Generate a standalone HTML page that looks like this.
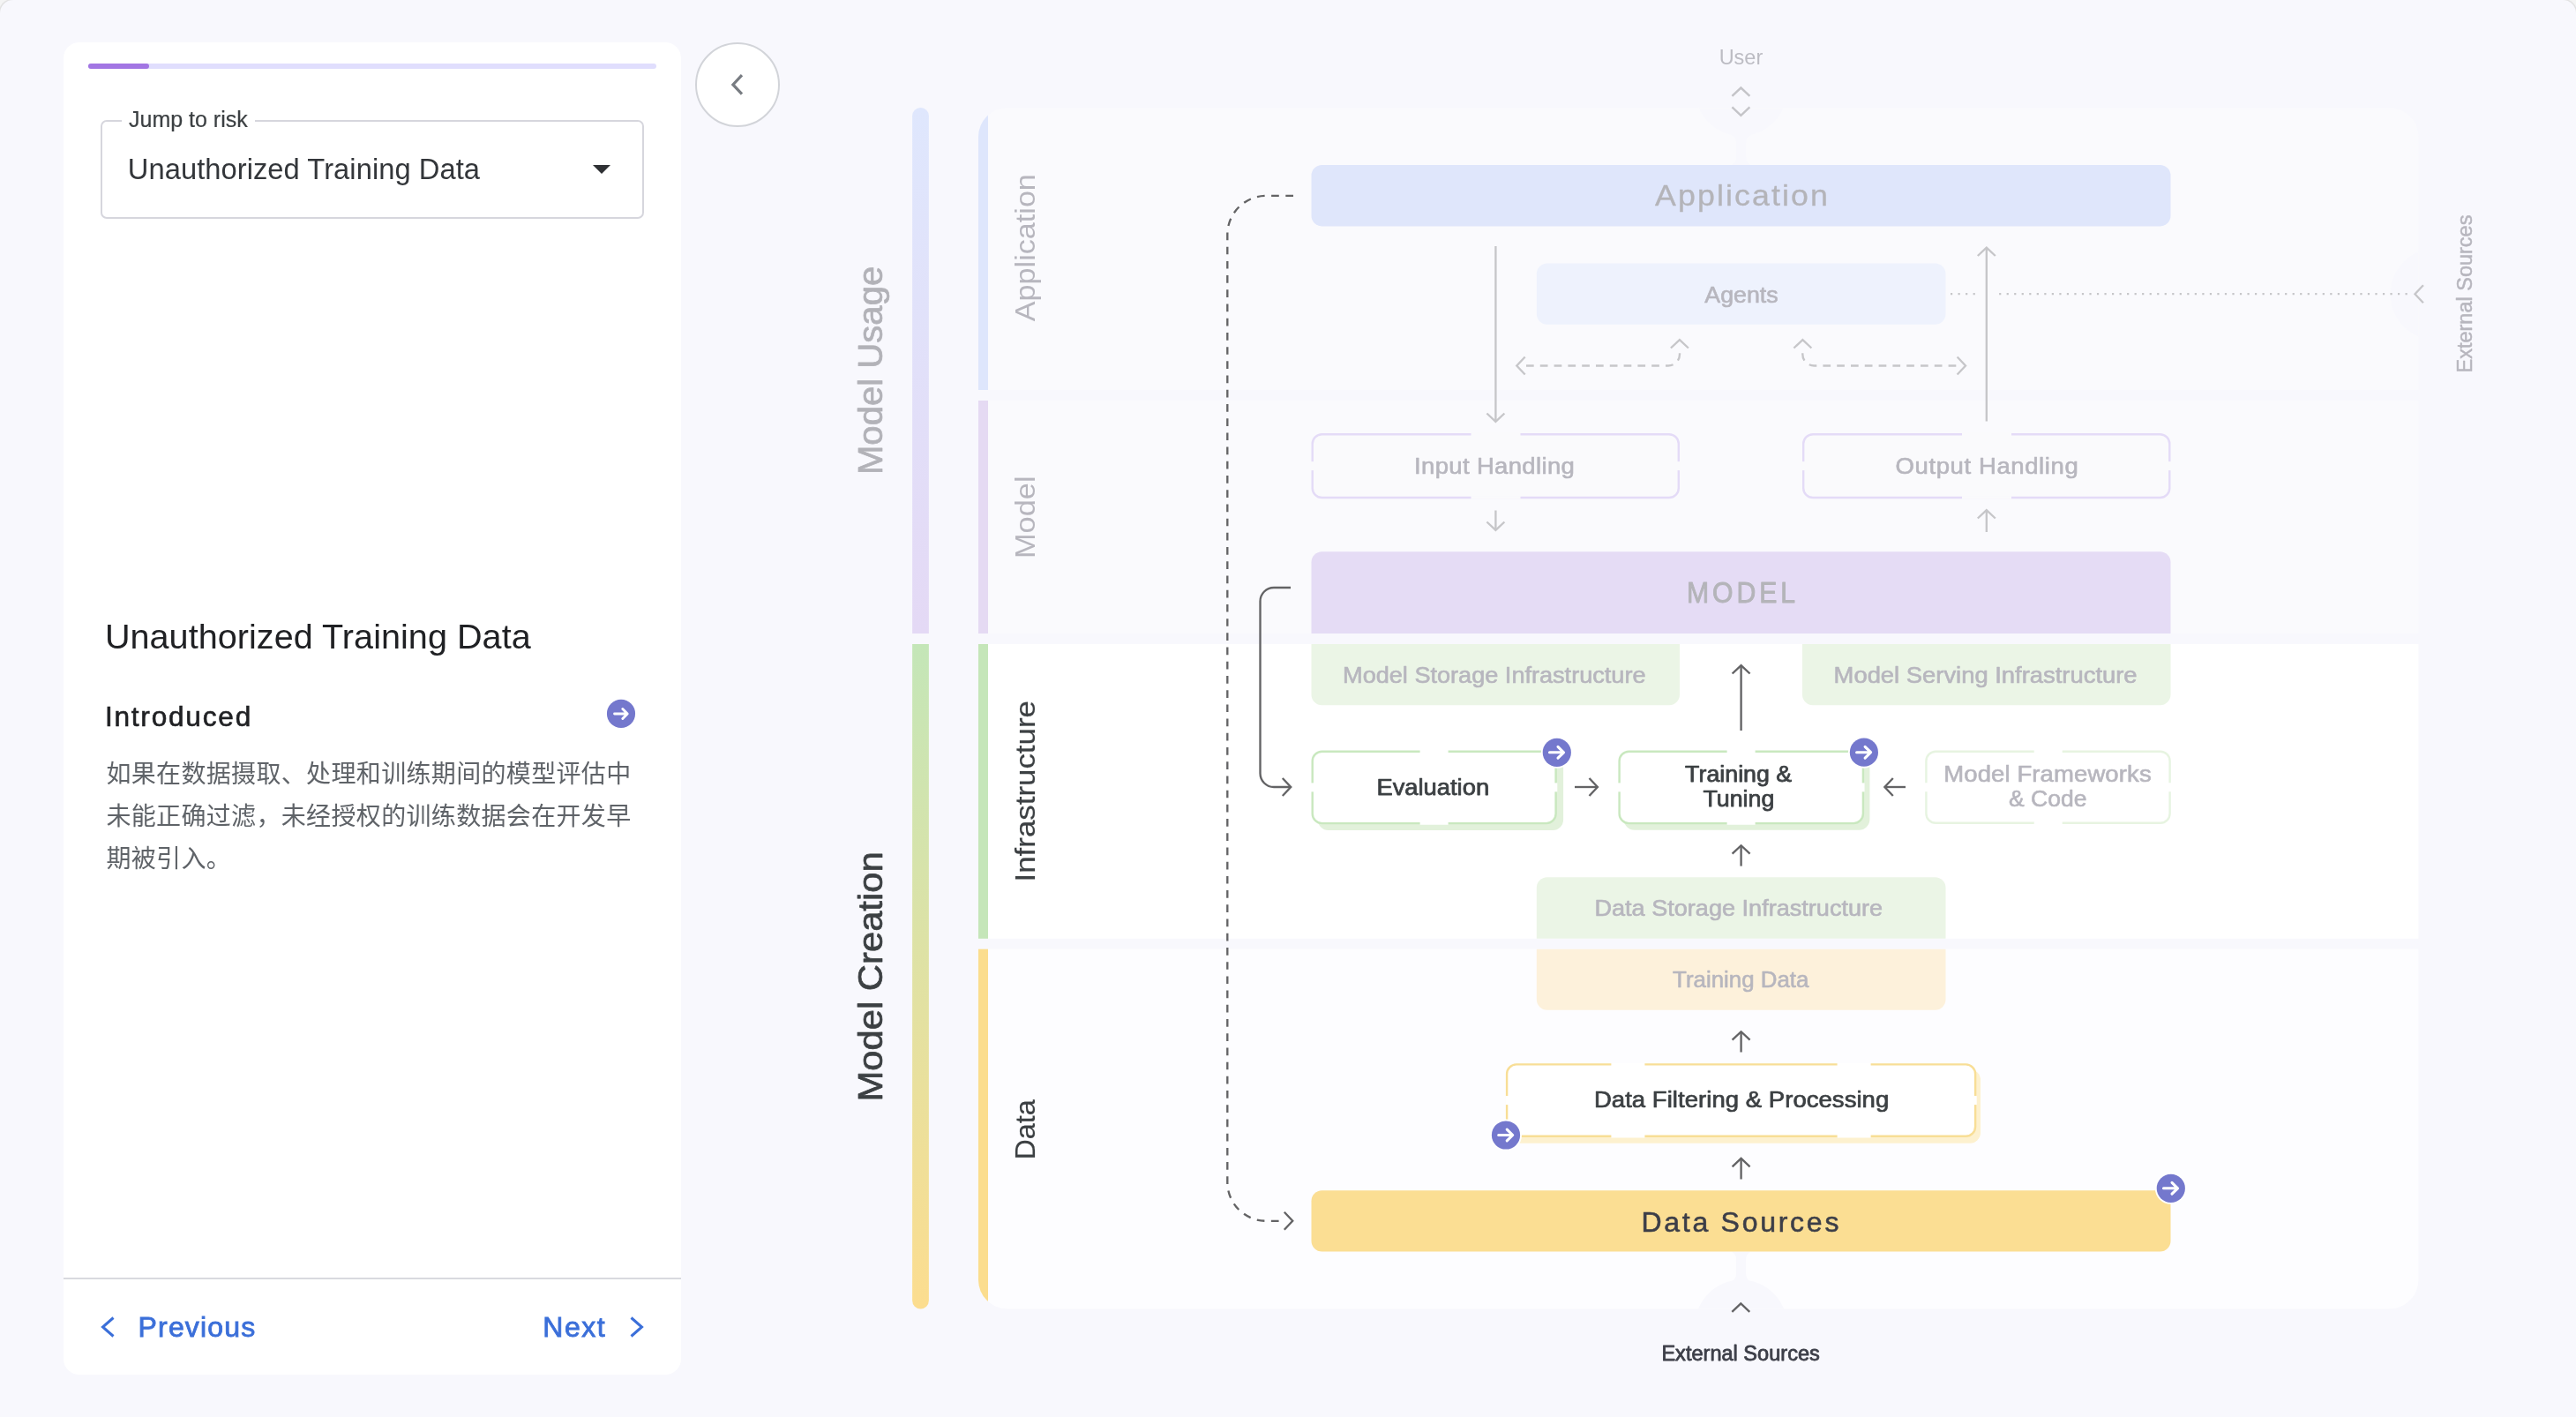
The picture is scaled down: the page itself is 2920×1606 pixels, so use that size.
<!DOCTYPE html>
<html lang="zh-CN">
<head>
<meta charset="utf-8">
<title>SAIF Risk Map - Unauthorized Training Data</title>
<style>
*{box-sizing:border-box;margin:0;padding:0}
html,body{width:2920px;height:1606px;overflow:hidden;background:#f4f4f4}
body{font-family:"Liberation Sans","Noto Sans CJK SC",sans-serif;position:relative;color:#3c4043}
#page{position:absolute;left:0;top:0;width:2920px;height:1606px;background:#f8f8fd;border-radius:15px 15px 0 0;box-shadow:0 0 0 1.5px #e3e3e3;overflow:hidden;will-change:transform}
.abs{position:absolute}
/* ---------- left panel ---------- */
#panel{position:absolute;left:72px;top:48px;width:700px;height:1509.5px;background:#fff;border-radius:18px}
#track{position:absolute;left:100px;top:71.9px;width:644px;height:6.1px;border-radius:4px;background:#e0defd}
#fill{position:absolute;left:100px;top:71.9px;width:69px;height:6.1px;border-radius:4px;background:#a276e3}
#select{position:absolute;left:114px;top:136px;width:616px;height:112px;border:2px solid #d6d6dd;border-radius:7px}
#sel-label{position:absolute;left:138px;top:117.4px;-webkit-text-stroke:0.2px #3c4043;height:36px;line-height:36px;padding:0 8px;background:#fff;font-size:25px;color:#3c4043;white-space:nowrap}
#sel-value{position:absolute;left:144.8px;letter-spacing:0.05px;top:170px;height:44px;line-height:44px;font-size:32.7px;color:#33363a;white-space:nowrap}
#sel-caret{position:absolute;left:672px;top:187px;width:0;height:0;border-left:10px solid transparent;border-right:10px solid transparent;border-top:10px solid #2f3134}
#title{position:absolute;left:118.9px;letter-spacing:0.04px;top:693.2px;height:56px;line-height:56px;font-size:39.6px;color:#202124;white-space:nowrap}
#intro{position:absolute;left:118.9px;top:790px;height:44px;line-height:44px;font-size:31.6px;color:#202124;white-space:nowrap;-webkit-text-stroke:0.6px #202124;letter-spacing:1.78px}
#desc{position:absolute;left:120.4px;top:853.7px;width:612px;letter-spacing:0.34px;font-size:28px;line-height:48px;color:#5f6368}
#divider{position:absolute;left:72px;top:1447.5px;width:700px;height:2px;background:#d9dadf}
.nav{position:absolute;top:1482px;height:44px;line-height:44px;font-size:32px;color:#3b6fd9;white-space:nowrap;letter-spacing:1.15px;-webkit-text-stroke:0.85px #3b6fd9}
/* ---------- collapse button ---------- */
#collapse{position:absolute;left:788px;top:48px;width:96px;height:96px;border-radius:50%;border:2.2px solid #d2d4d9;background:#fff}
</style>
</head>
<body>
<div id="page">

<!-- LEFT PANEL -->
<div id="panel"></div>
<div id="track"></div><div id="fill"></div>
<div id="select"></div>
<div id="sel-label">Jump to risk</div>
<div id="sel-value">Unauthorized Training Data</div>
<div id="sel-caret"></div>
<div id="title">Unauthorized Training Data</div>
<div id="intro">Introduced</div>
<svg class="abs" style="left:687px;top:792px" width="34" height="34" viewBox="0 0 34 34"><circle cx="17" cy="16.9" r="16.06" fill="#7478cd"/><path d="M9.55 17H23.8M18.8 11.5L24.2 17L18.8 22.5" fill="none" stroke="#fff" stroke-width="2.9" stroke-linecap="round" stroke-linejoin="round"/></svg>
<div id="desc">如果在数据摄取、处理和训练期间的模型评估中未能正确过滤，未经授权的训练数据会在开发早期被引入。</div>
<div id="divider"></div>
<svg class="abs" style="left:111px;top:1488px" width="24" height="32" viewBox="0 0 24 32"><path d="M17.5 5.5L5.5 16L17.5 26.5" fill="none" stroke="#3b6fd9" stroke-width="3"/></svg>
<div class="nav" style="left:156.6px">Previous</div>
<div class="nav" style="left:615.3px;letter-spacing:1.5px">Next</div>
<svg class="abs" style="left:709px;top:1488px" width="24" height="32" viewBox="0 0 24 32"><path d="M6.5 5.5L18.5 16L6.5 26.5" fill="none" stroke="#3b6fd9" stroke-width="3"/></svg>

<!-- COLLAPSE BUTTON -->
<div id="collapse"></div>
<svg class="abs" style="left:820px;top:80px" width="32" height="32" viewBox="0 0 32 32"><path d="M21 5.2L10.9 15.9L21 26.6" fill="none" stroke="#787c82" stroke-width="3.2"/></svg>

<!-- DIAGRAM -->
<!--DIAGRAM-START-->
<svg class="abs" style="left:0;top:0" width="2920" height="1606" viewBox="0 0 2920 1606" font-family="'Liberation Sans',sans-serif">
<defs>
<linearGradient id="gU" x1="0" y1="0" x2="0" y2="1"><stop offset="0" stop-color="#dfe7fd"/><stop offset="1" stop-color="#e4d9f5"/></linearGradient>
<linearGradient id="gC" x1="0" y1="0" x2="0" y2="1"><stop offset="0" stop-color="#c4e6b8"/><stop offset="1" stop-color="#fcdd8f"/></linearGradient>
<clipPath id="cp"><rect x="1109" y="122.2" width="1632.4" height="1361.3" rx="33" ry="33"/></clipPath>
</defs>
<path d="M1034.1 718V131.3a9.4 9.4 0 0 1 18.8 0V718Z" fill="url(#gU)"/>
<path d="M1034.1 730V1474a9.4 9.4 0 0 0 18.8 0V730Z" fill="url(#gC)"/>
<g clip-path="url(#cp)">
<rect x="1109" y="122" width="11" height="320.0" fill="#dee6fc"/>
<rect x="1120" y="122" width="1622" height="320.0" fill="#fafafd"/>
<rect x="1109" y="454" width="11" height="264.0" fill="#e5daf3"/>
<rect x="1120" y="454" width="1622" height="264.0" fill="#fafafd"/>
<rect x="1109" y="730" width="11" height="333.8" fill="#c5e6b9"/>
<rect x="1120" y="730" width="1622" height="333.8" fill="#ffffff"/>
<rect x="1109" y="1075.7" width="11" height="407.8" fill="#fbdd8e"/>
<rect x="1120" y="1075.7" width="1622" height="407.8" fill="#fdfdff"/>
</g>
<circle cx="1973.6" cy="1502.5" r="52" fill="#f8f8fd" clip-path="url(#cp)"/>
<path d="M1962.6 1418.5 q5.5 3 5.5 9 v16 q0 6 -5.5 9 h22 q-5.5 -3 -5.5 -9 v-16 q0 -6 5.5 -9z" fill="#f8f8fd"/>
<circle cx="1973.6" cy="102" r="52" fill="#f8f8fd" clip-path="url(#cp)"/>
<path d="M1962.6 187 q5.5 -3 5.5 -9 v-16 q0 -6 -5.5 -9 h22 q-5.5 3 -5.5 9 v16 q0 6 5.5 9z" fill="#f8f8fd"/>
<circle cx="2761.5" cy="333.4" r="52" fill="#f8f8fd" clip-path="url(#cp)"/>
<path d="M1498.5 187H2448.5a12 12 0 0 1 12 12V244.5a12 12 0 0 1 -12 12H1498.5a12 12 0 0 1 -12 -12V199a12 12 0 0 1 12 -12Z" fill="#dfe6fb"/>
<path d="M1753.8 298.6H2193.5a12 12 0 0 1 12 12V355.8a12 12 0 0 1 -12 12H1753.8a12 12 0 0 1 -12 -12V310.6a12 12 0 0 1 12 -12Z" fill="#eef2fd"/>
<path d="M1498.5 625.3H2448.5a12 12 0 0 1 12 12V718H1486.5V637.3a12 12 0 0 1 12 -12Z" fill="#e5dcf5"/>
<path d="M1486.5 730H1904V787.2a12 12 0 0 1 -12 12H1498.5a12 12 0 0 1 -12 -12V730Z" fill="#ebf5e6"/>
<path d="M2043 730H2460.5V787.2a12 12 0 0 1 -12 12H2055a12 12 0 0 1 -12 -12V730Z" fill="#ebf5e6"/>
<path d="M1753.8 994.3H2193.5a12 12 0 0 1 12 12V1063.8H1741.8V1006.3a12 12 0 0 1 12 -12Z" fill="#ebf5e6"/>
<path d="M1741.8 1075.7H2205.5V1132.7a12 12 0 0 1 -12 12H1753.8a12 12 0 0 1 -12 -12V1075.7Z" fill="#fdf1db"/>
<path d="M1498.5 1349.2H2448.5a12 12 0 0 1 12 12V1406.6a12 12 0 0 1 -12 12H1498.5a12 12 0 0 1 -12 -12V1361.2a12 12 0 0 1 12 -12Z" fill="#fbde93"/>
<path d="M1498.5 492.2H1892.0a10.8 10.8 0 0 1 10.8 10.8V553.2a10.8 10.8 0 0 1 -10.8 10.8H1498.5a10.8 10.8 0 0 1 -10.8 -10.8V503.0a10.8 10.8 0 0 1 10.8 -10.8Z" fill="#fafafc" stroke="#e4dbf7" stroke-width="2.4"/>
<rect x="1667.5" y="490.5" width="56" height="3.6" fill="#fafafc"/>
<rect x="1667.5" y="562.1" width="56" height="3.6" fill="#fafafc"/>
<rect x="1486.0" y="523.1" width="3.6" height="10" fill="#fafafc"/>
<rect x="1900.9" y="523.1" width="3.6" height="10" fill="#fafafc"/>
<path d="M2055.0 492.2H2448.5a10.8 10.8 0 0 1 10.8 10.8V553.2a10.8 10.8 0 0 1 -10.8 10.8H2055.0a10.8 10.8 0 0 1 -10.8 -10.8V503.0a10.8 10.8 0 0 1 10.8 -10.8Z" fill="#fafafc" stroke="#e4dbf7" stroke-width="2.4"/>
<rect x="2224.0" y="490.5" width="56" height="3.6" fill="#fafafc"/>
<rect x="2224.0" y="562.1" width="56" height="3.6" fill="#fafafc"/>
<rect x="2042.5" y="523.1" width="3.6" height="10" fill="#fafafc"/>
<rect x="2457.4" y="523.1" width="3.6" height="10" fill="#fafafc"/>
<path d="M1505.8 857.2H1760.1a12 12 0 0 1 12 12V929.0a12 12 0 0 1 -12 12H1505.8a12 12 0 0 1 -12 -12V869.2a12 12 0 0 1 12 -12Z" fill="#e2f1db"/>
<path d="M1498.5 851.7H1752.8a10.8 10.8 0 0 1 10.8 10.8V922.3a10.8 10.8 0 0 1 -10.8 10.8H1498.5a10.8 10.8 0 0 1 -10.8 -10.8V862.5a10.8 10.8 0 0 1 10.8 -10.8Z" fill="#ffffff" stroke="#c9e8bf" stroke-width="2.4"/>
<rect x="1609.6" y="850.0" width="32" height="3.6" fill="#ffffff"/>
<rect x="1609.6" y="931.1999999999999" width="32" height="3.6" fill="#ffffff"/>
<rect x="1486.0" y="887.4" width="3.6" height="10" fill="#ffffff"/>
<rect x="1761.7" y="887.4" width="3.6" height="10" fill="#ffffff"/>
<path d="M1852.7 857.0H2107.4a12 12 0 0 1 12 12V928.8a12 12 0 0 1 -12 12H1852.7a12 12 0 0 1 -12 -12V869.0a12 12 0 0 1 12 -12Z" fill="#e2f1db"/>
<path d="M1846.4 851.7H2101.1a10.8 10.8 0 0 1 10.8 10.8V922.3a10.8 10.8 0 0 1 -10.8 10.8H1846.4a10.8 10.8 0 0 1 -10.8 -10.8V862.5a10.8 10.8 0 0 1 10.8 -10.8Z" fill="#ffffff" stroke="#c9e8bf" stroke-width="2.4"/>
<rect x="1957.6" y="850.0" width="32" height="3.6" fill="#ffffff"/>
<rect x="1957.6" y="931.1999999999999" width="32" height="3.6" fill="#ffffff"/>
<rect x="1833.9" y="887.4" width="3.6" height="10" fill="#ffffff"/>
<rect x="2110.0" y="887.4" width="3.6" height="10" fill="#ffffff"/>
<path d="M2194.2 851.7H2448.8a10.8 10.8 0 0 1 10.8 10.8V922.0a10.8 10.8 0 0 1 -10.8 10.8H2194.2a10.8 10.8 0 0 1 -10.8 -10.8V862.5a10.8 10.8 0 0 1 10.8 -10.8Z" fill="#ffffff" stroke="#e7f4e1" stroke-width="2.4"/>
<rect x="2305.7" y="850.0" width="32" height="3.6" fill="#ffffff"/>
<rect x="2305.7" y="930.9" width="32" height="3.6" fill="#ffffff"/>
<rect x="2181.7" y="887.25" width="3.6" height="10" fill="#ffffff"/>
<rect x="2457.7000000000003" y="887.25" width="3.6" height="10" fill="#ffffff"/>
<path d="M1723.6000000000001 1212.0H2233.0a12 12 0 0 1 12 12V1283.8a12 12 0 0 1 -12 12H1723.6000000000001a12 12 0 0 1 -12 -12V1224.0a12 12 0 0 1 12 -12Z" fill="#fdf1cf"/>
<path d="M1718.9 1206.4H2228.3a10.8 10.8 0 0 1 10.8 10.8V1277.0a10.8 10.8 0 0 1 -10.8 10.8H1718.9a10.8 10.8 0 0 1 -10.8 -10.8V1217.2a10.8 10.8 0 0 1 10.8 -10.8Z" fill="#ffffff" stroke="#f8de96" stroke-width="2.4"/>
<rect x="1826.4" y="1204.7" width="38" height="3.6" fill="#ffffff"/>
<rect x="1826.4" y="1285.9" width="38" height="3.6" fill="#ffffff"/>
<rect x="2082.6" y="1204.7" width="38" height="3.6" fill="#ffffff"/>
<rect x="2082.6" y="1285.9" width="38" height="3.6" fill="#ffffff"/>
<rect x="1706.4" y="1242.1" width="3.6" height="10" fill="#ffffff"/>
<rect x="2237.2000000000003" y="1242.1" width="3.6" height="10" fill="#ffffff"/>
<path d="M1963.4 108.9L1973.4 99.51L1983.4 108.9" fill="none" stroke="#c4c4c8" stroke-width="2.4" stroke-linejoin="miter"/>
<path d="M1963.4 121.4L1973.4 130.79L1983.4 121.4" fill="none" stroke="#c4c4c8" stroke-width="2.4" stroke-linejoin="miter"/>
<path d="M1695.4 477.5V279" fill="none" stroke="#c6c6c9" stroke-width="2.35"/>
<path d="M1685.4 468.5L1695.4 477.93L1705.4 468.5" fill="none" stroke="#c6c6c9" stroke-width="2.35" stroke-linejoin="miter"/>
<path d="M2251.8 281V477.5" fill="none" stroke="#c6c6c9" stroke-width="2.35"/>
<path d="M2241.8 290L2251.8 280.57L2261.8 290" fill="none" stroke="#c6c6c9" stroke-width="2.35" stroke-linejoin="miter"/>
<path d="M1695.4 600.5V578.5" fill="none" stroke="#c6c6c9" stroke-width="2.35"/>
<path d="M1685.4 591.5L1695.4 600.93L1705.4 591.5" fill="none" stroke="#c6c6c9" stroke-width="2.35" stroke-linejoin="miter"/>
<path d="M2251.8 578.5V603" fill="none" stroke="#c6c6c9" stroke-width="2.35"/>
<path d="M2241.8 587.5L2251.8 578.07L2261.8 587.5" fill="none" stroke="#c6c6c9" stroke-width="2.35" stroke-linejoin="miter"/>
<path d="M1730 414.5H1891a13 13 0 0 0 13 -13V398" fill="none" stroke="#c6c6c9" stroke-width="2.35" stroke-dasharray="8.7 7.1"/>
<path d="M1728.7 404.5L1719.27 414.5L1728.7 424.5" fill="none" stroke="#c6c6c9" stroke-width="2.35" stroke-linejoin="miter"/>
<path d="M1893.9 394.5L1903.9 385.07L1913.9 394.5" fill="none" stroke="#c6c6c9" stroke-width="2.35" stroke-linejoin="miter"/>
<path d="M2217.3 414.5H2056.3a13 13 0 0 1 -13 -13V398" fill="none" stroke="#c6c6c9" stroke-width="2.35" stroke-dasharray="8.7 7.1"/>
<path d="M2218.6 404.5L2228.03 414.5L2218.6 424.5" fill="none" stroke="#c6c6c9" stroke-width="2.35" stroke-linejoin="miter"/>
<path d="M2033.4 394.5L2043.4 385.07L2053.4 394.5" fill="none" stroke="#c6c6c9" stroke-width="2.35" stroke-linejoin="miter"/>
<path d="M2211 333.2H2240" fill="none" stroke="#c6c6c9" stroke-width="2.2" stroke-dasharray="2.2 6.33"/>
<path d="M2266.1 333.2H2729.5" fill="none" stroke="#c6c6c9" stroke-width="2.2" stroke-dasharray="2.2 6.326"/>
<path d="M2746.9 323.2L2737.47 333.2L2746.9 343.2" fill="none" stroke="#c6c6c9" stroke-width="2.35" stroke-linejoin="miter"/>
<path d="M1466 221.9H1435.3A44 44 0 0 0 1391.3 265.9V1339.8A44 44 0 0 0 1435.3 1383.8H1455.3" fill="none" stroke="#636365" stroke-width="2.35" stroke-dasharray="8.7 7.51"/>
<path d="M1455.8 1373.8L1465.23 1383.8L1455.8 1393.8" fill="none" stroke="#636365" stroke-width="2.35" stroke-linejoin="miter"/>
<path d="M1463 666H1444a15.5 15.5 0 0 0 -15.5 15.5V876.5a15.5 15.5 0 0 0 15.5 15.5H1463" fill="none" stroke="#636365" stroke-width="2.35"/>
<path d="M1453.8 882L1463.23 892L1453.8 902" fill="none" stroke="#636365" stroke-width="2.35" stroke-linejoin="miter"/>
<path d="M1973.6 754.5V828" fill="none" stroke="#636365" stroke-width="2.35"/>
<path d="M1963.6 763.5L1973.6 754.07L1983.6 763.5" fill="none" stroke="#636365" stroke-width="2.35" stroke-linejoin="miter"/>
<path d="M1973.6 958.7V981.6" fill="none" stroke="#636365" stroke-width="2.35"/>
<path d="M1963.6 967.7L1973.6 958.27L1983.6 967.7" fill="none" stroke="#636365" stroke-width="2.35" stroke-linejoin="miter"/>
<path d="M1973.6 1169.7V1192.5" fill="none" stroke="#636365" stroke-width="2.35"/>
<path d="M1963.6 1178.7L1973.6 1169.27L1983.6 1178.7" fill="none" stroke="#636365" stroke-width="2.35" stroke-linejoin="miter"/>
<path d="M1973.6 1313.4V1336.5" fill="none" stroke="#636365" stroke-width="2.35"/>
<path d="M1963.6 1322.4L1973.6 1312.97L1983.6 1322.4" fill="none" stroke="#636365" stroke-width="2.35" stroke-linejoin="miter"/>
<path d="M1810.5 892H1785" fill="none" stroke="#636365" stroke-width="2.35"/>
<path d="M1801.5 882L1810.93 892L1801.5 902" fill="none" stroke="#636365" stroke-width="2.35" stroke-linejoin="miter"/>
<path d="M2136.8 892H2160" fill="none" stroke="#636365" stroke-width="2.35"/>
<path d="M2145.8 882L2136.37 892L2145.8 902" fill="none" stroke="#636365" stroke-width="2.35" stroke-linejoin="miter"/>
<path d="M1963.3 1486.8L1973.3 1477.34L1983.3 1486.8" fill="none" stroke="#636365" stroke-width="2.3" stroke-linejoin="miter"/>
<circle cx="1764.8" cy="852.8" r="18" fill="#fff"/><circle cx="1764.8" cy="852.8" r="16.1" fill="#7478cd"/>
<path d="M1756.50 852.8H1772.10M1766.00 846.40L1772.50 852.8L1766.00 859.20" fill="none" stroke="#fff" stroke-width="3.1" stroke-linecap="round" stroke-linejoin="round"/>
<circle cx="2112.9" cy="852.7" r="18" fill="#fff"/><circle cx="2112.9" cy="852.7" r="16.1" fill="#7478cd"/>
<path d="M2104.60 852.7H2120.20M2114.10 846.30L2120.60 852.7L2114.10 859.10" fill="none" stroke="#fff" stroke-width="3.1" stroke-linecap="round" stroke-linejoin="round"/>
<circle cx="1707" cy="1286.5" r="18" fill="#fff"/><circle cx="1707" cy="1286.5" r="16.1" fill="#7478cd"/>
<path d="M1698.70 1286.5H1714.30M1708.20 1280.10L1714.70 1286.5L1708.20 1292.90" fill="none" stroke="#fff" stroke-width="3.1" stroke-linecap="round" stroke-linejoin="round"/>
<circle cx="2460.8" cy="1346.8" r="18" fill="#fff"/><circle cx="2460.8" cy="1346.8" r="16.1" fill="#7478cd"/>
<path d="M2452.50 1346.8H2468.10M2462.00 1340.40L2468.50 1346.8L2462.00 1353.20" fill="none" stroke="#fff" stroke-width="3.1" stroke-linecap="round" stroke-linejoin="round"/>
<text x="1973.45" y="73.43" font-size="23" fill="#bcbcc3" text-anchor="middle" textLength="49.60" lengthAdjust="spacingAndGlyphs">User</text>
<text x="1975.05" y="233.44" font-size="32.5" fill="#b4b4b9" text-anchor="middle" textLength="197.89" lengthAdjust="spacingAndGlyphs" stroke="#b4b4b9" stroke-width="0.3" stroke-linejoin="round" letter-spacing="1.901">Application</text>
<text x="1974.00" y="342.75" font-size="25" fill="#b7b6be" text-anchor="middle" textLength="83.40" lengthAdjust="spacingAndGlyphs" stroke="#b7b6be" stroke-width="0.6" stroke-linejoin="round">Agents</text>
<text x="1694.12" y="537.35" font-size="25" fill="#b7b6be" text-anchor="middle" textLength="182.14" lengthAdjust="spacingAndGlyphs" stroke="#b7b6be" stroke-width="0.6" stroke-linejoin="round" letter-spacing="0.311">Input Handling</text>
<text x="2252.40" y="537.45" font-size="25" fill="#b7b6be" text-anchor="middle" textLength="207.80" lengthAdjust="spacingAndGlyphs" stroke="#b7b6be" stroke-width="0.6" stroke-linejoin="round" letter-spacing="0.549">Output Handling</text>
<text x="1975.44" y="683.43" font-size="32.5" fill="#b4b4b9" text-anchor="middle" textLength="126.88" lengthAdjust="spacingAndGlyphs" stroke="#b4b4b9" stroke-width="0.9" stroke-linejoin="round" letter-spacing="4.171">MODEL</text>
<text x="1693.80" y="773.95" font-size="25" fill="#b7b6be" text-anchor="middle" textLength="343.40" lengthAdjust="spacingAndGlyphs" stroke="#b7b6be" stroke-width="0.6" stroke-linejoin="round">Model Storage Infrastructure</text>
<text x="2250.60" y="773.95" font-size="25" fill="#b7b6be" text-anchor="middle" textLength="344.00" lengthAdjust="spacingAndGlyphs" stroke="#b7b6be" stroke-width="0.6" stroke-linejoin="round">Model Serving Infrastructure</text>
<text x="1624.25" y="900.95" font-size="25" fill="#3c4043" text-anchor="middle" textLength="127.70" lengthAdjust="spacingAndGlyphs" stroke="#3c4043" stroke-width="0.75" stroke-linejoin="round">Evaluation</text>
<text x="1970.65" y="886.45" font-size="25" fill="#3c4043" text-anchor="middle" textLength="121.10" lengthAdjust="spacingAndGlyphs" stroke="#3c4043" stroke-width="0.75" stroke-linejoin="round">Training &amp;</text>
<text x="1970.90" y="913.95" font-size="25" fill="#3c4043" text-anchor="middle" textLength="81.00" lengthAdjust="spacingAndGlyphs" stroke="#3c4043" stroke-width="0.75" stroke-linejoin="round">Tuning</text>
<text x="2321.00" y="886.25" font-size="25" fill="#b7b6be" text-anchor="middle" textLength="235.51" lengthAdjust="spacingAndGlyphs" stroke="#b7b6be" stroke-width="0.6" stroke-linejoin="round" letter-spacing="0.097">Model Frameworks</text>
<text x="2321.25" y="914.15" font-size="25" fill="#b7b6be" text-anchor="middle" textLength="88.30" lengthAdjust="spacingAndGlyphs" stroke="#b7b6be" stroke-width="0.6" stroke-linejoin="round">&amp; Code</text>
<text x="1970.80" y="1038.25" font-size="25" fill="#b7b6be" text-anchor="middle" textLength="326.70" lengthAdjust="spacingAndGlyphs" stroke="#b7b6be" stroke-width="0.6" stroke-linejoin="round">Data Storage Infrastructure</text>
<text x="1973.20" y="1119.45" font-size="25" fill="#b7b6be" text-anchor="middle" textLength="154.30" lengthAdjust="spacingAndGlyphs" stroke="#b7b6be" stroke-width="0.6" stroke-linejoin="round">Training Data</text>
<text x="1974.12" y="1255.25" font-size="25" fill="#3c4043" text-anchor="middle" textLength="334.34" lengthAdjust="spacingAndGlyphs" stroke="#3c4043" stroke-width="0.7" stroke-linejoin="round" letter-spacing="0.039">Data Filtering &amp; Processing</text>
<text x="1973.77" y="1395.76" font-size="32" fill="#3c3e48" text-anchor="middle" textLength="226.74" lengthAdjust="spacingAndGlyphs" stroke="#3c3e48" stroke-width="0.55" stroke-linejoin="round" letter-spacing="2.739">Data Sources</text>
<text x="1973.10" y="1541.73" font-size="23" fill="#3c3e48" text-anchor="middle" textLength="179.40" lengthAdjust="spacingAndGlyphs" stroke="#3c3e48" stroke-width="0.8" stroke-linejoin="round">External Sources</text>
<text transform="translate(2793.4 333.05) rotate(-90)" x="0" y="8.41" font-size="23.5" fill="#b7b6be" text-anchor="middle" textLength="178.90" lengthAdjust="spacingAndGlyphs" stroke="#b7b6be" stroke-width="0.5" stroke-linejoin="round">External Sources</text>
<text transform="translate(1161.8 280.65) rotate(-90)" x="0" y="11.46" font-size="32" fill="#b7b6be" text-anchor="middle" textLength="167.00" lengthAdjust="spacingAndGlyphs">Application</text>
<text transform="translate(1161.8 586.25) rotate(-90)" x="0" y="11.46" font-size="32" fill="#b7b6be" text-anchor="middle" textLength="93.70" lengthAdjust="spacingAndGlyphs">Model</text>
<text transform="translate(1162 896.80) rotate(-90)" x="0" y="11.46" font-size="32" fill="#3c4043" text-anchor="middle" textLength="205.40" lengthAdjust="spacingAndGlyphs" stroke="#3c4043" stroke-width="0.2" stroke-linejoin="round">Infrastructure</text>
<text transform="translate(1162 1280.35) rotate(-90)" x="0" y="11.46" font-size="32" fill="#3c4043" text-anchor="middle" textLength="68.20" lengthAdjust="spacingAndGlyphs" stroke="#3c4043" stroke-width="0.2" stroke-linejoin="round">Data</text>
<text transform="translate(986.2 419.90) rotate(-90)" x="0" y="13.60" font-size="38" fill="#b2b2b8" text-anchor="middle" textLength="236.40" lengthAdjust="spacingAndGlyphs" stroke="#b2b2b8" stroke-width="0.7" stroke-linejoin="round">Model Usage</text>
<text transform="translate(986.2 1106.90) rotate(-90)" x="0" y="13.60" font-size="38" fill="#3c4043" text-anchor="middle" textLength="283.20" lengthAdjust="spacingAndGlyphs" stroke="#3c4043" stroke-width="0.7" stroke-linejoin="round">Model Creation</text>
</svg>
<!--DIAGRAM-END-->

</div>
</body>
</html>
